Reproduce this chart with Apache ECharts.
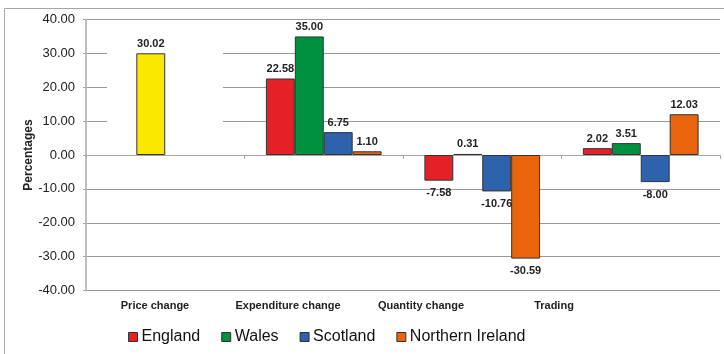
<!DOCTYPE html>
<html>
<head>
<meta charset="utf-8">
<script src="https://cdn.jsdelivr.net/npm/echarts@6/dist/echarts.min.js"></script>
<style>
  html, body { margin: 0; padding: 0; background: #fff; }
  #chart { width: 724px; height: 354px; }
</style>
</head>
<body>
<div id="chart"></div>
<script>
// Categories and values (percentages)
var categories = ['Price change', 'Expenditure change', 'Quantity change', 'Trading'];
var england = [null, 22.58, -7.58, 2.02];
var wales = [30.02, 35.00, 0.31, 3.51];
var scotland = [null, 6.75, -10.76, -8.00];
var northernIreland = [null, 1.10, -30.59, 12.03];
var yTicks = { min: -40, max: 40, step: 10 };

var FONT = '"Liberation Sans", Arial, sans-serif';
var colors = {
  England: '#e42127',
  Wales: '#009140',
  Scotland: '#2d62ac',
  'Northern Ireland': '#ea640e',
  price: '#fae800'
};

function labelOpt() {
  return {
    show: true,
    fontFamily: FONT,
    fontWeight: 'bold',
    fontSize: 11,
    color: '#222',
    formatter: function (p) { return p.value == null ? '' : Number(p.value).toFixed(2); },
    position: 'top',
    distance: 4
  };
}

function buildData(values, overrideFirst) {
  return values.map(function (v, i) {
    var item = {
      value: v,
      label: v < 0 ? { position: 'bottom', distance: 7 } : { position: 'top', distance: 4 }
    };
    if (overrideFirst && i === 0) item.itemStyle = { color: colors.price };
    return item;
  });
}

function barSeries(name, values, overrideFirst) {
  return {
    name: name,
    type: 'bar',
    xAxisIndex: 0,
    yAxisIndex: 0,
    data: buildData(values, overrideFirst),
    barGap: '0%',
    barCategoryGap: '27%',
    itemStyle: { color: colors[name], borderColor: '#333', borderWidth: 1 },
    label: labelOpt(),
    z: 3
  };
}

var chart = echarts.init(document.getElementById('chart'), null, { renderer: 'canvas' });
chart.setOption({
  animation: false,
  backgroundColor: '#fff',
  textStyle: { fontFamily: FONT },
  graphic: [
    {
      type: 'rect',
      shape: { x: 4.5, y: 8.5, width: 800, height: 400 },
      style: { fill: 'none', stroke: '#a6a6a6', lineWidth: 1 },
      z: 0
    },
    {
      type: 'rect',
      shape: { x: 107, y: 24, width: 116, height: 126 },
      style: { fill: '#fff' },
      z: 1
    }
  ],
  grid: [
    { left: 86, right: 4, top: 19.5, bottom: 63.5 },
    // category captions sit on their own, narrower band
    { left: 88.5, right: 103.5, top: 19.5, bottom: 63.5 }
  ],
  legend: {
    data: ['England', 'Wales', 'Scotland', 'Northern Ireland'],
    left: 123,
    top: 324,
    icon: 'rect',
    itemWidth: 9,
    itemHeight: 9,
    itemGap: 21,
    itemStyle: { borderColor: '#333', borderWidth: 1 },
    textStyle: { fontFamily: FONT, fontSize: 16, color: '#111', padding: [0, 0, 0, -1] }
  },
  xAxis: [
    {
      type: 'category',
      gridIndex: 0,
      data: categories,
      axisLine: { onZero: true, lineStyle: { color: '#a6a6a6', width: 1 } },
      axisTick: { show: true, length: 4, lineStyle: { color: '#a6a6a6' } },
      axisLabel: { show: false },
      splitLine: { show: false },
      z: 2
    },
    {
      type: 'category',
      gridIndex: 1,
      data: categories,
      position: 'bottom',
      axisLine: { show: false, onZero: false },
      axisTick: { show: false },
      axisLabel: {
        show: true,
        interval: 0,
        hideOverlap: false,
        fontFamily: FONT,
        fontWeight: 'bold',
        fontSize: 11,
        color: '#222',
        margin: 10
      }
    }
  ],
  yAxis: [
    {
      type: 'value',
      gridIndex: 0,
      min: yTicks.min,
      max: yTicks.max,
      interval: yTicks.step,
      name: 'Percentages',
      nameLocation: 'middle',
      nameRotate: 90,
      nameGap: 51,
      nameMoveOverlap: false,
      nameTextStyle: { fontFamily: FONT, fontWeight: 'bold', fontSize: 12, color: '#222' },
      axisLine: { show: true, lineStyle: { color: '#bfbfbf', width: 2 } },
      axisTick: { show: true, length: 3, lineStyle: { color: '#a6a6a6' } },
      axisLabel: {
        fontFamily: FONT,
        fontSize: 13,
        color: '#222',
        margin: 11,
        formatter: function (v) { return v.toFixed(2); }
      },
      splitLine: { show: true, lineStyle: { color: '#999', width: 1 } }
    },
    {
      type: 'value',
      gridIndex: 1,
      min: yTicks.min,
      max: yTicks.max,
      show: false
    }
  ],
  series: [
    barSeries('England', england, false),
    barSeries('Wales', wales, true),
    barSeries('Scotland', scotland, false),
    barSeries('Northern Ireland', northernIreland, false)
  ]
});
</script>
</body>
</html>
